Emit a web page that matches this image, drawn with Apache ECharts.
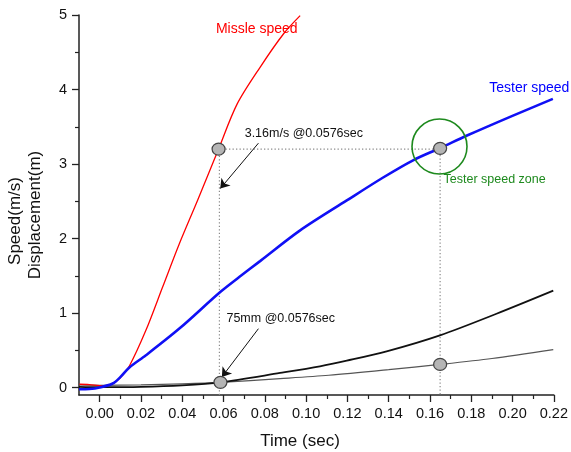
<!DOCTYPE html>
<html>
<head>
<meta charset="utf-8">
<script src="https://cdn.jsdelivr.net/npm/echarts@6/dist/echarts.min.js"></script>
<style>
html,body{margin:0;padding:0;background:#fff;}
#chart{width:571px;height:452px;}
</style>
</head>
<body>
<div id="chart"></div>
<script>
// ---- data ----
const missileSpeed = [
  [-0.0098, 0.044], [-0.005, 0.04], [0.0015, 0.021], [0.0063, 0.054], [0.01, 0.13],
  [0.0144, 0.29], [0.0224, 0.768], [0.0305, 1.349], [0.0386, 1.93], [0.0474, 2.511],
  [0.0573, 3.181], [0.0665, 3.80], [0.0777, 4.298], [0.089, 4.745], [0.0971, 4.991]
];
const testerSpeed = [
  [-0.01, -0.023], [-0.005, -0.02], [0, 0.0], [0.0063, 0.054], [0.01, 0.14],
  [0.0144, 0.27], [0.0224, 0.433], [0.0386, 0.791], [0.0584, 1.282], [0.0676, 1.483],
  [0.0777, 1.697], [0.0971, 2.109], [0.1197, 2.511], [0.1373, 2.819], [0.1518, 3.05],
  [0.1649, 3.214], [0.1779, 3.382], [0.2002, 3.65], [0.2195, 3.874]
];
const displacementA = [
  [-0.01, 0.01], [0, 0.006], [0.02, 0.01], [0.04, 0.03], [0.0585, 0.07], [0.0874, 0.196],
  [0.1067, 0.285], [0.1197, 0.36], [0.139, 0.485], [0.1648, 0.70], [0.1922, 0.99], [0.2197, 1.30]
];
const displacementB = [
  [-0.01, 0.035], [0, 0.03], [0.02, 0.035], [0.04, 0.05], [0.0585, 0.07], [0.0874, 0.12],
  [0.111, 0.165], [0.14, 0.24], [0.1648, 0.31], [0.19, 0.39], [0.2197, 0.51]
];
const markerDots = [[0.0576, 3.2], [0.1649, 3.21], [0.0585, 0.07], [0.1649, 0.31]];
const guidePath = [[0.058, -0.1], [0.058, 3.2], [0.1649, 3.2], [0.1649, -0.1]];
const zoneCircle = [[0.1646, 3.235]];
const arrowLines = [
  [[0.0769, 3.28], [0.0584, 2.67]],
  [[0.0769, 0.79], [0.0592, 0.142]]
];
const annotationTexts = ['Missle speed', 'Tester speed', 'Tester speed zone', '3.16m/s @0.0576sec', '75mm @0.0576sec'];
const annotationPos = [[0.0761, 4.816], [0.2081, 4.012], [0.1913, 2.788], [0.0989, 3.405], [0.0877, 0.925]];
const xMajorTicks = [0, 0.02, 0.04, 0.06, 0.08, 0.10, 0.12, 0.14, 0.16, 0.18, 0.20, 0.22];
const xMinorTicks = [0.01, 0.03, 0.05, 0.07, 0.09, 0.11, 0.13, 0.15, 0.17, 0.19, 0.21];
const yMajorTicks = [0, 1, 2, 3, 4, 5];
const yMinorTicks = [0.5, 1.5, 2.5, 3.5, 4.5];
const xTitle = 'Time (sec)';
const yTitleLines = ['Speed(m/s)', 'Displacement(m)'];

// ---- styles ----
const FONT = '"Liberation Sans", Arial, sans-serif';
const annotationStyles = [
  {color: '#ff0000', fontSize: 14},
  {color: '#0000ff', fontSize: 14},
  {color: '#1e8a1e', fontSize: 12.5},
  {color: '#111', fontSize: 12.5},
  {color: '#111', fontSize: 12.5}
];
const axisColor = '#222';
const X_MIN = -0.01, X_MAX = 0.22, Y_MIN = -0.1, Y_MAX = 5;

const chart = echarts.init(document.getElementById('chart'), null, {renderer: 'canvas'});

const option = {
  animation: false,
  backgroundColor: '#fff',
  grid: {left: 79, right: 17, top: 15, bottom: 57, containLabel: false},
  xAxis: [
    {
      type: 'value', gridIndex: 0, position: 'bottom', min: X_MIN, max: X_MAX,
      axisLine: {show: true, onZero: false, lineStyle: {color: axisColor, width: 1.5}},
      axisTick: {show: true, inside: false, length: 7, customValues: xMajorTicks, lineStyle: {color: axisColor, width: 1.3}},
      axisLabel: {show: true, customValues: xMajorTicks, margin: 11, fontSize: 14.5, fontFamily: FONT, color: '#111',
        formatter: v => Number(v).toFixed(2)},
      splitLine: {show: false}
    },
    {
      type: 'value', gridIndex: 0, position: 'bottom', min: X_MIN, max: X_MAX,
      axisLine: {show: false, onZero: false},
      axisTick: {show: true, inside: false, length: 4, customValues: xMinorTicks, lineStyle: {color: axisColor, width: 1.2}},
      axisLabel: {show: false, customValues: xMinorTicks},
      splitLine: {show: false}
    }
  ],
  yAxis: [
    {
      type: 'value', gridIndex: 0, position: 'left', min: Y_MIN, max: Y_MAX,
      axisLine: {show: true, onZero: false, lineStyle: {color: axisColor, width: 1.5}},
      axisTick: {show: true, inside: false, length: 7, customValues: yMajorTicks, lineStyle: {color: axisColor, width: 1.3}},
      axisLabel: {show: true, customValues: yMajorTicks, margin: 12, fontSize: 14.5, fontFamily: FONT, color: '#111'},
      splitLine: {show: false}
    },
    {
      type: 'value', gridIndex: 0, position: 'left', min: Y_MIN, max: Y_MAX,
      axisLine: {show: false, onZero: false},
      axisTick: {show: true, inside: false, length: 4, customValues: yMinorTicks, lineStyle: {color: axisColor, width: 1.2}},
      axisLabel: {show: false, customValues: yMinorTicks},
      splitLine: {show: false}
    }
  ],
  series: [
    {
      name: 'guides', type: 'line', data: guidePath, showSymbol: false, silent: true, z: 1,
      lineStyle: {color: '#8a8a8a', width: 1.2, type: [1.3, 2.2]},
      markLine: {
        silent: true, animation: false,
        symbol: ['none', 'arrow'], symbolSize: 9,
        label: {show: false},
        lineStyle: {color: '#111', width: 1, type: 'solid'},
        data: arrowLines.map(a => [{coord: a[0]}, {coord: a[1]}])
      }
    },
    {
      name: 'Displacement B', type: 'line', data: displacementB, showSymbol: false, smooth: 0.3, z: 2,
      lineStyle: {color: '#555', width: 1.2}
    },
    {
      name: 'Displacement A', type: 'line', data: displacementA, showSymbol: false, smooth: 0.3, z: 3,
      lineStyle: {color: '#111', width: 1.8}
    },
    {
      name: 'Missle speed', type: 'line', data: missileSpeed, showSymbol: false, smooth: 0.3, z: 4,
      lineStyle: {color: '#ff0000', width: 1.3}
    },
    {
      name: 'Tester speed', type: 'line', data: testerSpeed, showSymbol: false, smooth: 0.3, z: 5,
      lineStyle: {color: '#1010f5', width: 2.6}
    },
    {
      name: 'zone', type: 'scatter', data: zoneCircle, symbol: 'circle', symbolSize: 55, z: 6, silent: true,
      itemStyle: {color: 'rgba(0,0,0,0)', borderColor: '#1e8a1e', borderWidth: 1.6, opacity: 1}
    },
    {
      name: 'dots', type: 'scatter', data: markerDots, symbol: 'circle', symbolSize: [13, 12], z: 7, silent: true,
      itemStyle: {color: '#b5b5b5', borderColor: '#444', borderWidth: 1.2, opacity: 1}
    },
    {
      name: 'annotations', type: 'scatter', symbol: 'circle', symbolSize: 1, z: 8, silent: true,
      itemStyle: {color: 'rgba(0,0,0,0)', opacity: 1},
      data: annotationTexts.map((t, i) => ({
        value: annotationPos[i],
        label: {
          show: true, position: 'inside', formatter: t, opacity: 1,
          color: annotationStyles[i].color, fontSize: annotationStyles[i].fontSize, fontFamily: FONT,
          align: 'center', verticalAlign: 'middle', textBorderWidth: 0
        }
      }))
    }
  ],
  graphic: [
    {type: 'text', x: 300, y: 441, silent: true,
      style: {text: xTitle, fontSize: 17, fontFamily: FONT, fill: '#111', align: 'center', verticalAlign: 'middle'}},
    {type: 'text', x: 15, y: 221, rotation: Math.PI / 2, silent: true,
      style: {text: yTitleLines[0], fontSize: 17, fontFamily: FONT, fill: '#111', align: 'center', verticalAlign: 'middle'}},
    {type: 'text', x: 35, y: 215, rotation: Math.PI / 2, silent: true,
      style: {text: yTitleLines[1], fontSize: 17, fontFamily: FONT, fill: '#111', align: 'center', verticalAlign: 'middle'}}
  ]
};
chart.setOption(option);
</script>
</body>
</html>
